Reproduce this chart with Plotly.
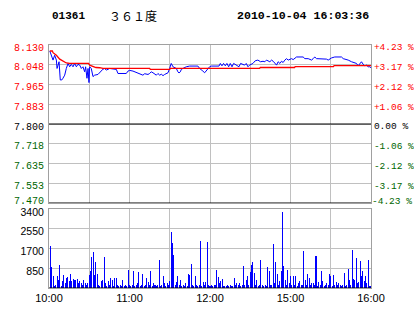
import plotly.graph_objects as go

# ---------------- data ----------------
stock_code = "01361"
stock_name = "３６１度"
stamp = "2010-10-04 16:03:36"
prev_close = 7.800

time_tickvals = [0, 30, 60, 90, 120, 150, 180, 210, 240]
time_ticktext = ["10:00", "", "11:00", "", "12:00", "", "15:00", "", "16:00"]

price_tickvals = [7.470, 7.5525, 7.635, 7.7175, 7.800, 7.8825, 7.965, 8.0475, 8.130]
price_ticktext = ["7.470", "7.553", "7.635", "7.718", "7.800", "7.883", "7.965", "8.048", "8.130"]
pct_ticktext = ["-4.23 %", "-3.17 %", "-2.12 %", "-1.06 %", "0.00 %", "+1.06 %", "+2.12 %", "+3.17 %", "+4.23 %"]

vol_tickvals = [850, 1700, 2550, 3400]
vol_ticktext = ["850", "1700", "2550", "3400"]

price_min = [0.6, 1.2, 2.0, 3.0, 4.2, 5.5, 6.0, 7.5, 8.4, 9.5, 10.4, 11.7, 12.9, 14.2, 15.4, 16.6,
             17.9, 19.1, 20.4, 21.6, 22.9, 24.1, 25.3, 26.6, 27.3, 28.3, 29.1, 29.8, 30.3, 31.5,
             32.8, 34.0, 36.5, 37.8, 39.0, 40.2, 41.5, 42.7, 45.2, 50.2, 51.4, 57.6, 58.9,
             60.1, 62.6, 65.1, 66.3, 68.8, 70.0, 71.3, 73.8, 75.0, 76.2, 77.5, 78.7, 80.0, 81.2,
             82.5, 83.7, 85.0, 86.2, 87.4, 88.7, 89.9, 91.1, 92.4, 93.6, 94.9, 96.1, 96.9, 97.9,
             98.6, 99.8, 102.3, 104.8, 111.0, 112.3, 113.5, 114.7, 116.0, 117.2, 118.5, 119.7,
             121.0, 126.7, 127.7, 128.9, 130.1, 131.4, 132.6, 133.9, 135.1, 136.4, 137.6, 139.6,
             141.6, 142.8, 144.5, 145.8, 147.0, 148.3, 149.5, 152.0, 153.7, 155.7, 157.7, 159.5,
             160.9, 162.1, 164.6, 165.9, 167.1, 168.3, 169.6, 170.8, 172.1, 173.3, 174.5, 175.8,
             177.0, 178.3, 179.5, 180.8, 182.0, 183.2, 184.5, 189.4, 190.7, 193.2, 195.7, 196.9,
             198.1, 199.4, 201.9, 204.4, 206.8, 208.1, 209.3, 210.6, 213.0, 218.0, 219.3, 221.7,
             223.0, 225.5, 228.0, 229.2, 230.4, 231.7, 232.9, 234.2, 235.4, 236.6, 237.9, 239.1, 240.0]
price_val = [8.105, 8.094, 8.080, 8.067, 8.087, 8.067, 8.032, 8.060, 7.984, 7.984, 7.991, 8.004, 8.032,
             8.053, 8.039, 8.049, 8.039, 8.053, 8.039, 8.049, 8.046, 8.032, 8.039, 8.018, 8.039,
             7.991, 8.032, 7.973, 8.039, 8.032, 7.998, 8.004, 8.007, 8.015, 8.025, 8.029, 8.032,
             8.025, 8.032, 8.028, 8.011, 8.011, 8.021,
             8.024, 8.021, 8.015, 8.011, 8.007, 8.004, 8.010, 8.007, 8.011, 8.018, 8.014, 8.010,
             8.004, 8.011, 8.004, 8.008, 8.002, 8.007, 8.011, 8.014, 8.032, 8.053, 8.039, 8.035,
             8.032, 8.018, 8.013, 8.018, 8.028, 8.032, 8.039, 8.042, 8.042, 8.032, 8.028, 8.021,
             8.014, 8.021, 8.032, 8.039, 8.042, 8.042, 8.053, 8.043, 8.053, 8.043, 8.053, 8.039,
             8.053, 8.039, 8.053, 8.046, 8.039, 8.053, 8.049, 8.046, 8.053, 8.039, 8.046, 8.053,
             8.064, 8.067, 8.060, 8.062, 8.060, 8.067, 8.060, 8.067, 8.062, 8.053, 8.046, 8.060,
             8.053, 8.062, 8.057, 8.067, 8.073, 8.067, 8.071, 8.073, 8.069, 8.073, 8.080, 8.080,
             8.073, 8.073, 8.067, 8.073, 8.080, 8.073, 8.073, 8.071, 8.071, 8.067, 8.073, 8.076,
             8.080, 8.080, 8.073, 8.071, 8.067, 8.060, 8.057, 8.053, 8.043, 8.053, 8.060, 8.049,
             8.043, 8.046, 8.039, 8.039, 8.035]

avg_min = [0.6, 2.5, 3.0, 5.5, 8.0, 10.4, 12.9, 15.4, 29.5, 30.3, 32.8, 35.0, 37.8, 40.2, 75.0,
           75.5, 90.0, 90.5, 157.0, 157.5, 183.0, 183.5, 212.0, 212.5, 240.0]
avg_val = [8.105, 8.105, 8.098, 8.087, 8.071, 8.062, 8.055, 8.053, 8.053, 8.046, 8.039, 8.036,
           8.035, 8.032, 8.032, 8.028, 8.028, 8.032, 8.032, 8.036, 8.036, 8.040, 8.040, 8.044, 8.044]

vol_min = list(range(1, 241))
vol_val = [1820, 900, 530, 100, 140, 530, 360, 1000, 100, 285,
           570, 220, 430, 460, 300, 615, 285, 400, 360, 330,
           400, 220, 285, 220, 150, 360, 220, 150, 200, 570,
           715, 1330, 1530, 560, 1130, 615, 150, 100, 285, 360,
           1330, 215, 100, 300, 150, 415, 330, 100, 415, 430,
           150, 100, 150, 100, 360, 100, 150, 100, 775, 150,
           100, 150, 715, 100, 150, 200, 680, 100, 150, 615,
           100, 150, 430, 240, 150, 715, 100, 200, 150, 100,
           150, 1215, 100, 150, 500, 200, 100, 200, 150, 300,
           2395, 1935, 1435, 150, 250, 500, 150, 360, 100, 150,
           100, 200, 100, 615, 570, 1045, 150, 100, 500, 150,
           100, 150, 2035, 100, 250, 150, 250, 1995, 150, 100,
           150, 100, 150, 150, 790, 470, 200, 285, 400, 100,
           100, 100, 150, 100, 150, 100, 100, 430, 150, 200,
           150, 200, 100, 150, 960, 150, 360, 500, 150, 670,
           1000, 1100, 640, 150, 360, 100, 150, 1215, 150, 100,
           150, 100, 900, 715, 150, 150, 1908, 200, 1100, 615,
           150, 315, 715, 3285, 930, 360, 150, 790, 200, 530,
           150, 530, 150, 530, 100, 200, 285, 150, 150, 1600,
           360, 150, 615, 430, 150, 200, 200, 150, 1390, 100,
           250, 150, 745, 315, 100, 150, 200, 150, 615, 500,
           100, 570, 150, 250, 150, 200, 150, 100, 150, 640,
           100, 150, 815, 330, 150, 1650, 400, 360, 1290, 200,
           250, 1175, 500, 715, 285, 500, 200, 1215, 100, 100]

# ---------------- styling ----------------
RED = "#ff0000"
GREEN = "#006600"
BLACK = "#000000"
GRID = "#c0c0c0"
BORDER = "#a0a0a0"
MONO = "Liberation Mono"
SANS = "Liberation Sans"
LBL = 10
RLBL = 9.5


def colour_for(v):
    if abs(v - prev_close) < 1e-9:
        return BLACK
    return RED if v > prev_close else GREEN


# bottom-most price labels are drawn as annotations (lifted inside the panel)
left_text = ['<span style="color:%s">%s</span>' % (colour_for(v), t)
             for v, t in zip(price_tickvals[1:], price_ticktext[1:])]
right_text = ['<span style="color:%s">%s</span>' % (colour_for(v), t)
              for v, t in zip(price_tickvals[1:], pct_ticktext[1:])]

H = 314
top, bottom = 45, 26
plot_h = H - top - bottom
price_dom = [(H - bottom - 203) / plot_h, 1.0]
vol_dom = [0.0, (H - bottom - 209) / plot_h]

fig = go.Figure()
fig.add_trace(go.Bar(x=vol_min, y=vol_val, xaxis="x2", yaxis="y3", width=0.76,
                     marker=dict(color="#0000ff", line=dict(width=0)), hoverinfo="skip"))
fig.add_trace(go.Scatter(x=price_min, y=price_val, xaxis="x", yaxis="y", mode="lines",
                         line=dict(color="#0000ff", width=1), hoverinfo="skip"))
fig.add_trace(go.Scatter(x=avg_min, y=avg_val, xaxis="x", yaxis="y2", mode="lines",
                         line=dict(color=RED, width=1.3), hoverinfo="skip"))

common_x = dict(range=[0, 240], tickvals=time_tickvals, showgrid=True, gridcolor=GRID, gridwidth=1,
                zeroline=False, showline=True, mirror=True, linecolor=BORDER, linewidth=1, ticks="",
                automargin=False)

fig.update_layout(
    width=414, height=314,
    margin=dict(l=49, r=43, t=top, b=bottom, autoexpand=False),
    paper_bgcolor="white", plot_bgcolor="white",
    showlegend=False, bargap=0,
    xaxis=dict(domain=[0, 1], anchor="y", showticklabels=False, **common_x),
    xaxis2=dict(domain=[0, 1], anchor="y3", ticktext=time_ticktext, showticklabels=True,
                tickfont=dict(family=SANS, size=11, color=BLACK), **common_x),
    yaxis=dict(domain=price_dom, anchor="x", range=[price_tickvals[0], price_tickvals[-1]],
               tickvals=price_tickvals[1:], ticktext=left_text, tickfont=dict(family=MONO, size=LBL),
               showgrid=True, gridcolor=GRID, zeroline=False, showline=True, linecolor=BORDER,
               ticks="", ticklabelstandoff=2, ticklabelshift=2, automargin=False),
    yaxis2=dict(overlaying="y", side="right", anchor="x", range=[price_tickvals[0], price_tickvals[-1]],
                tickvals=price_tickvals[1:], ticktext=right_text, tickfont=dict(family=MONO, size=RLBL),
                showgrid=False, zeroline=False, showline=True, linecolor=BORDER, ticks="",
                ticklabelstandoff=0, ticklabelshift=2, automargin=False),
    yaxis3=dict(domain=vol_dom, anchor="x2", range=[0, vol_tickvals[-1]], tickvals=vol_tickvals,
                ticktext=vol_ticktext, tickfont=dict(family=SANS, size=10.5, color=BLACK),
                showgrid=True, gridcolor=GRID, zeroline=False, showline=True, mirror=True,
                linecolor=BORDER, ticks="", ticklabelstandoff=2, ticklabelshift=3, automargin=False),
    shapes=[
        dict(type="line", xref="x domain", yref="y", x0=0, x1=1, y0=prev_close, y1=prev_close,
             line=dict(color=BLACK, width=1)),
        dict(type="line", xref="x domain", yref="y", x0=0, x1=1, y0=price_tickvals[0],
             y1=price_tickvals[0], line=dict(color=BLACK, width=1)),
        dict(type="line", xref="x2 domain", yref="y3", x0=0, x1=1, y0=0, y1=0,
             line=dict(color=BLACK, width=1)),
    ],
    annotations=[
        dict(text="<b>%s</b>" % stock_code, xref="paper", yref="paper", x=0.003, y=(H - bottom - 16) / plot_h,
             xanchor="left", yanchor="middle", showarrow=False,
             font=dict(family=MONO, size=11, color=BLACK)),
        dict(text=stock_name, xref="paper", yref="paper", x=(107 - 49) / 322, y=(H - bottom - 16) / plot_h,
             xanchor="left", yanchor="middle", showarrow=False,
             font=dict(family="Noto Sans CJK SC", size=12, color=BLACK)),
        dict(text="<b>%s</b>" % stamp, xref="paper", yref="paper", x=(371 - 49) / 322,
             y=(H - bottom - 16) / plot_h, xanchor="right", yanchor="middle", showarrow=False,
             font=dict(family=MONO, size=11.6, color=BLACK)),
        dict(text=price_ticktext[0], xref="paper", yref="y", x=0, y=price_tickvals[0],
             xanchor="right", yanchor="bottom", xshift=-3, yshift=-6, showarrow=False,
             font=dict(family=MONO, size=LBL, color=colour_for(price_tickvals[0]))),
        dict(text=pct_ticktext[0], xref="paper", yref="y", x=1, y=price_tickvals[0],
             xanchor="left", yanchor="bottom", xshift=-1, yshift=-6, showarrow=False,
             font=dict(family=MONO, size=RLBL, color=colour_for(price_tickvals[0]))),
    ],
)

fig.write_html("out.html", config={"displayModeBar": False, "staticPlot": True})
